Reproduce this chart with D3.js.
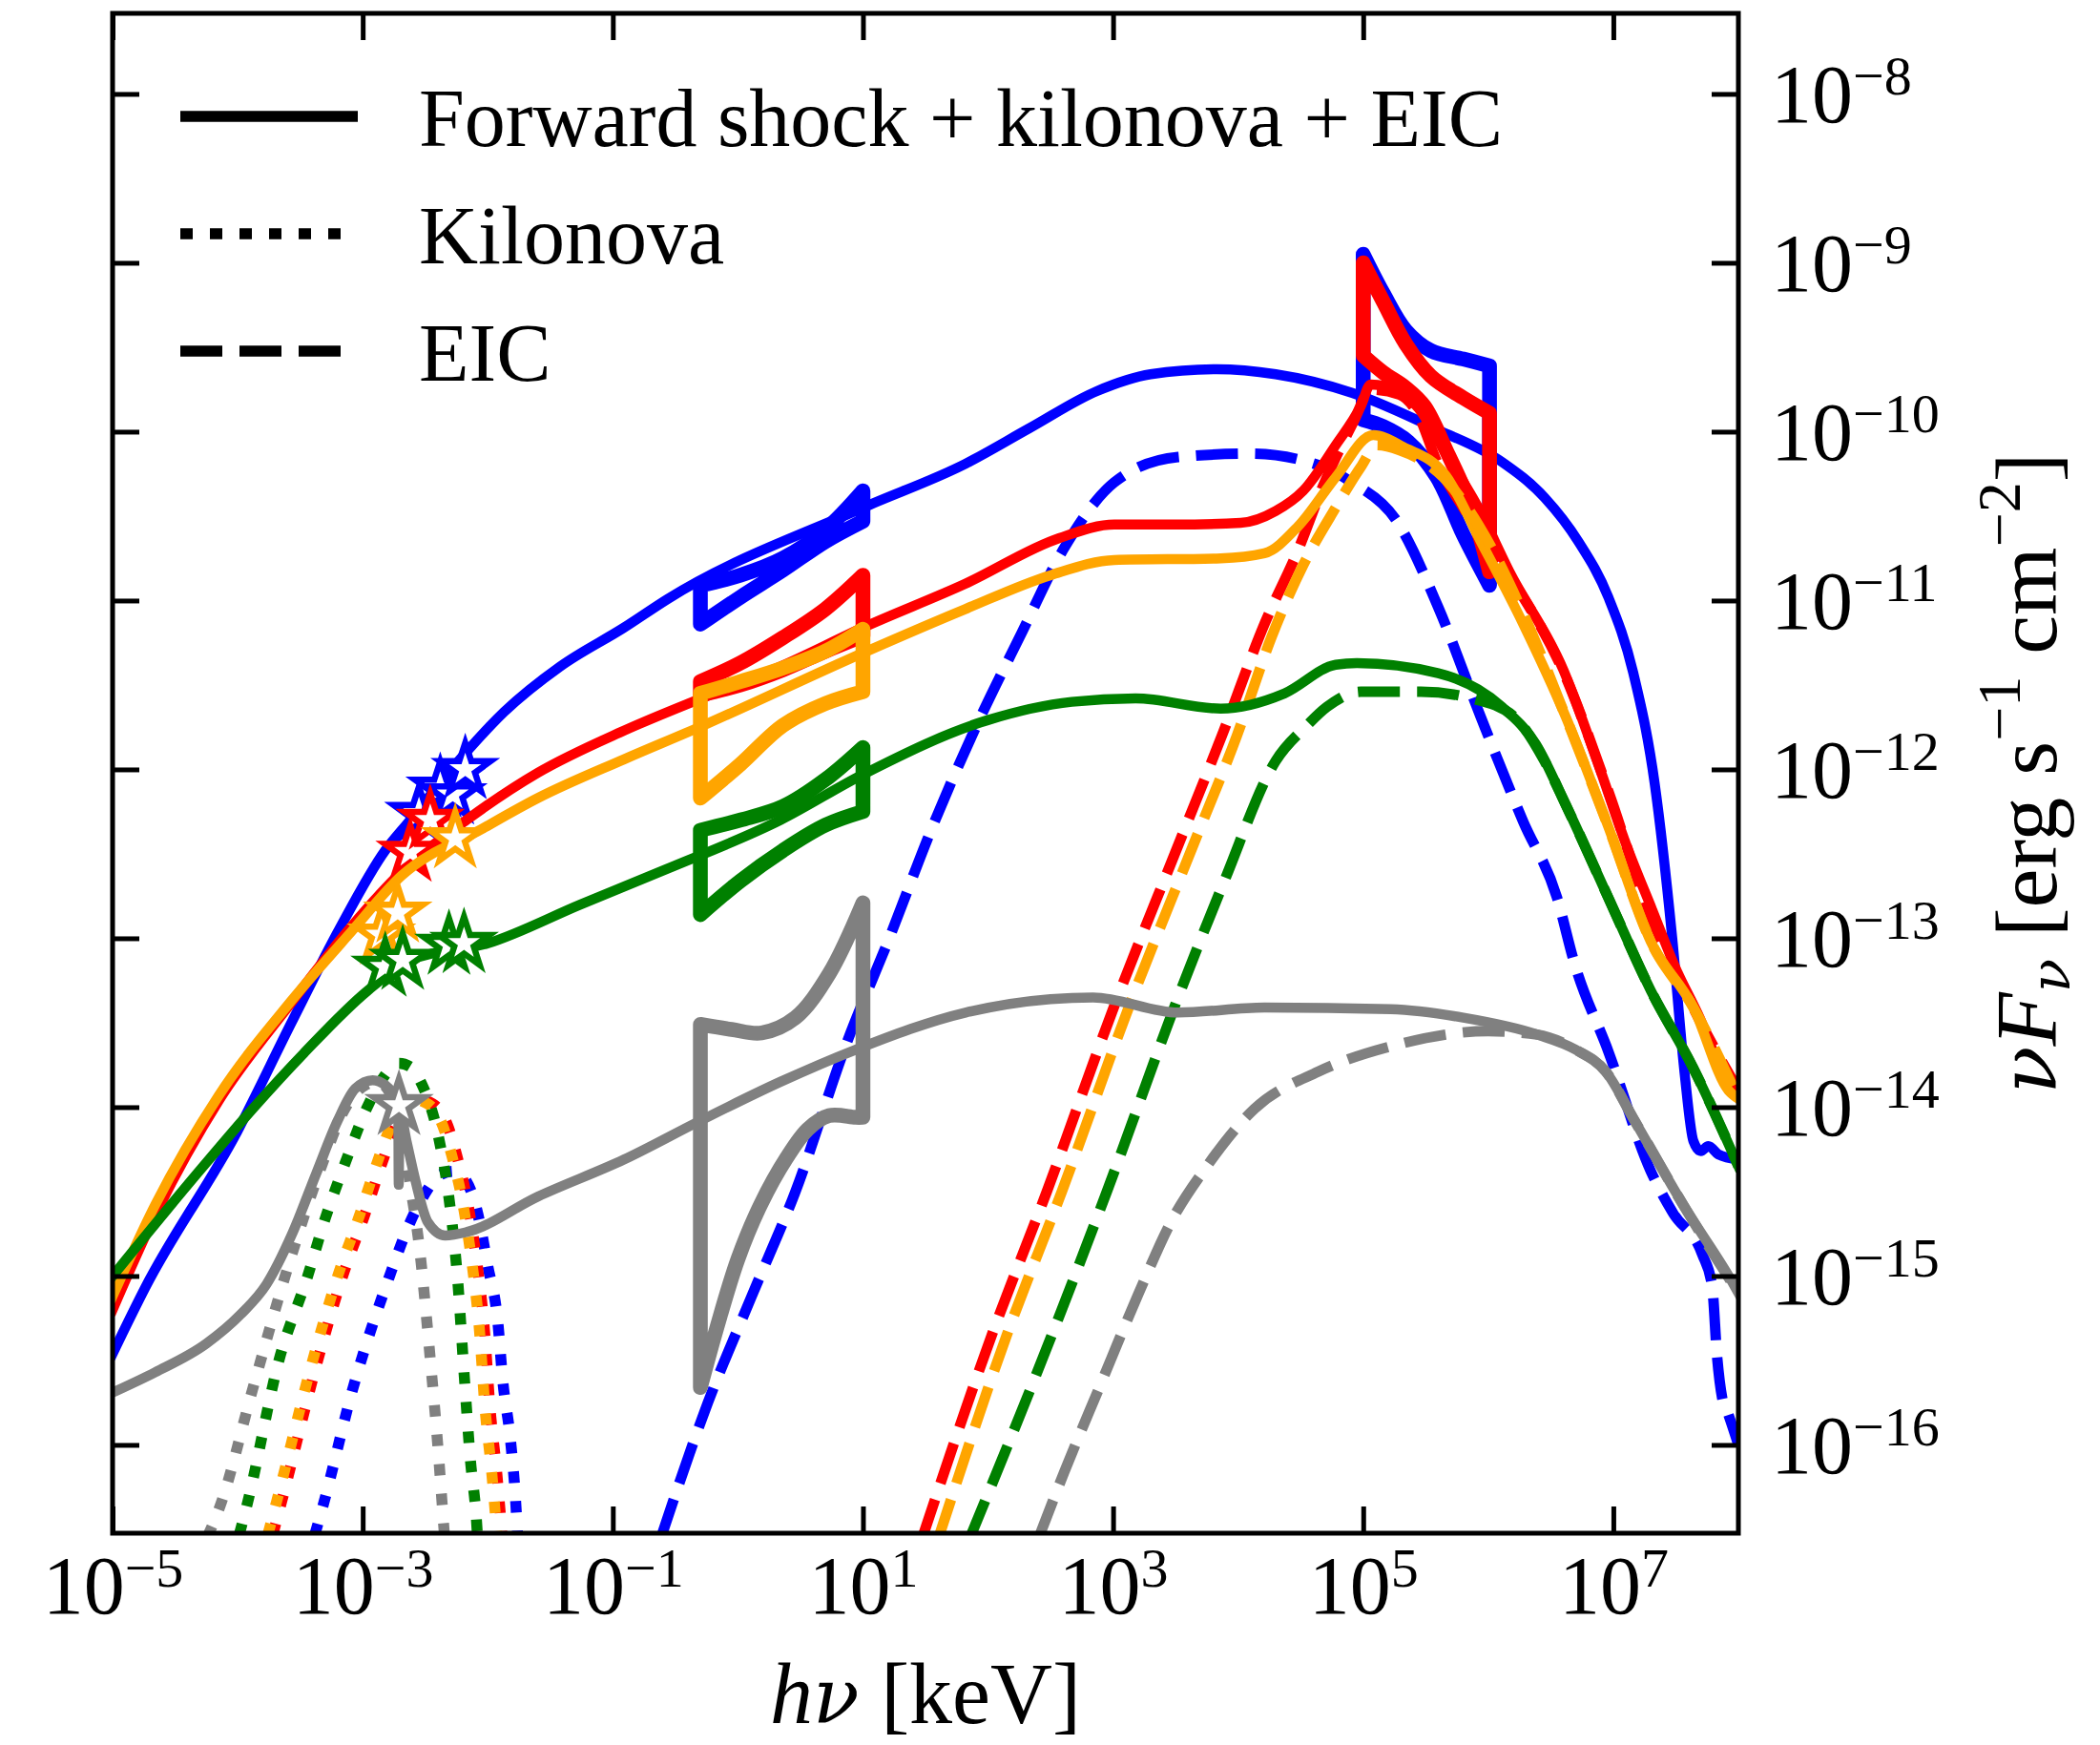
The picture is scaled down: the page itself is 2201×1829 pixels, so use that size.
<!doctype html>
<html>
<head>
<meta charset="utf-8">
<title>Spectral energy distributions</title>
<script src="https://cdnjs.cloudflare.com/ajax/libs/d3/7.8.5/d3.min.js"></script>
<style>
  body { margin: 0; background: #fff; }
  svg text { font-family: 'Liberation Serif', 'Times New Roman', serif; fill: #000; }
  .nu { font-family: 'DejaVu Serif', serif; font-style: italic; }
</style>
</head>
<body>
<div id="chart"></div>
<script>
// every point is [log10(hv / keV), log10(vFv / erg s^-1 cm^-2)]

// ---- blue ----
var blueTotal = [[-5.00,-15.46],[-4.74,-15.07],[-4.00,-14.14],[-3.57,-13.50],[-3.19,-12.95],[-2.82,-12.48],[-2.62,-12.30],[-2.28,-11.99],[-1.87,-11.66],[-1.42,-11.39],[-0.91,-11.16],[-0.56,-10.99],[1.00,-10.45],[1.82,-10.19],[2.33,-9.98],[2.87,-9.76],[3.30,-9.66],[3.83,-9.63],[4.30,-9.66],[4.91,-9.77],[5.60,-9.99],[6.11,-10.18],[6.45,-10.39],[6.72,-10.65],[6.96,-10.98],[7.16,-11.43],[7.33,-12.08],[7.47,-12.99],[7.57,-13.80],[7.64,-14.20],[7.70,-14.26],[7.76,-14.23],[7.84,-14.28],[8.00,-14.31]];
var blueKilonova = [[-3.45,-16.70],[-3.31,-16.34],[-3.08,-15.67],[-2.79,-15.01],[-2.62,-14.68],[-2.50,-14.51],[-2.38,-14.40],[-2.27,-14.38],[-2.17,-14.44],[-2.09,-14.60],[-2.00,-14.94],[-1.92,-15.27],[-1.88,-15.62],[-1.82,-15.96],[-1.78,-16.30],[-1.75,-16.70]];
var blueEIC = [[-0.62,-16.56],[-0.24,-15.75],[0.11,-15.12],[0.46,-14.50],[0.87,-13.62],[1.21,-13.00],[1.55,-12.35],[1.89,-11.77],[2.27,-11.19],[2.60,-10.70],[3.01,-10.30],[3.52,-10.15],[4.10,-10.13],[4.65,-10.20],[4.91,-10.30],[5.26,-10.52],[5.60,-11.04],[5.94,-11.69],[6.28,-12.31],[6.55,-12.76],[6.69,-13.15],[6.96,-13.67],[7.30,-14.38],[7.48,-14.63],[7.71,-14.87],[7.79,-15.06],[7.83,-15.48],[7.87,-15.72],[7.92,-15.82],[8.00,-16.00]];
var blueXrayUpper = [[-0.30,-10.91],[0.02,-10.85],[0.36,-10.75],[0.70,-10.58],[1.00,-10.35]];
var blueXrayLower = [[-0.30,-11.14],[0.02,-10.98],[0.36,-10.82],[0.70,-10.65],[1.00,-10.53]];
var blueGammaUpper = [[5.00,-8.95],[5.16,-9.18],[5.34,-9.40],[5.54,-9.52],[5.80,-9.57],[6.01,-9.61]];
var blueGammaLower = [[5.00,-9.93],[5.16,-9.97],[5.36,-10.06],[5.59,-10.27],[5.80,-10.61],[6.01,-10.91]];
var blueStars = [[-2.55,-12.26],[-2.38,-12.11],[-2.28,-12.15],[-2.18,-12.00]];

// ---- red ----
var redTotal = [[-5.00,-15.20],[-4.66,-14.64],[-4.15,-13.96],[-3.57,-13.38],[-3.09,-12.93],[-2.68,-12.60],[-2.17,-12.30],[-1.60,-12.02],[-0.91,-11.77],[-0.23,-11.56],[0.34,-11.39],[1.00,-11.16],[1.82,-10.90],[2.57,-10.63],[3.01,-10.55],[3.50,-10.55],[4.02,-10.54],[4.30,-10.47],[4.52,-10.35],[4.78,-10.08],[4.98,-9.85],[5.06,-9.72],[5.29,-9.76],[5.44,-9.86],[5.67,-10.14],[5.92,-10.45],[6.17,-10.83],[6.60,-11.41],[6.88,-11.97],[7.11,-12.46],[7.31,-12.83],[7.50,-13.18],[7.69,-13.47],[7.85,-13.75],[8.00,-13.86]];
var redKilonova = [[-3.78,-16.70],[-3.65,-16.34],[-3.36,-15.50],[-3.16,-15.00],[-2.99,-14.65],[-2.85,-14.34],[-2.74,-14.12],[-2.58,-13.95],[-2.44,-13.98],[-2.32,-14.11],[-2.25,-14.28],[-2.15,-14.61],[-2.08,-14.96],[-2.03,-15.29],[-1.98,-15.80],[-1.93,-16.15],[-1.89,-16.50],[-1.87,-16.70]];
var redEIC = [[1.47,-16.56],[2.03,-15.35],[2.47,-14.50],[3.01,-13.40],[3.52,-12.45],[3.87,-11.80],[4.21,-11.14],[4.48,-10.70],[4.68,-10.32],[4.93,-9.93],[5.06,-9.75],[5.29,-9.78],[5.44,-9.90],[5.59,-10.18],[5.80,-10.45],[6.17,-10.85],[6.60,-11.42],[6.96,-12.13],[7.30,-12.87],[7.50,-13.20],[7.70,-13.50],[8.00,-13.90]];
var redXrayUpper = [[-0.30,-11.48],[0.02,-11.37],[0.36,-11.22],[0.70,-11.05],[1.00,-10.85]];
var redXrayLower = [[-0.30,-11.56],[0.02,-11.50],[0.36,-11.41],[0.70,-11.30],[1.00,-11.21]];
var redGammaUpper = [[5.00,-9.00],[5.16,-9.23],[5.34,-9.48],[5.54,-9.67],[5.80,-9.80],[6.01,-9.89]];
var redGammaLower = [[5.00,-9.55],[5.16,-9.65],[5.34,-9.74],[5.49,-9.85],[5.67,-10.12],[5.85,-10.42],[6.01,-10.83]];
var redStars = [[-2.62,-12.49],[-2.46,-12.30]];

// ---- orange ----
var orangeTotal = [[-5.00,-15.12],[-4.66,-14.58],[-4.15,-13.93],[-3.57,-13.37],[-3.09,-12.96],[-2.69,-12.63],[-2.04,-12.35],[-1.60,-12.17],[-0.91,-11.94],[-0.34,-11.76],[1.00,-11.31],[1.82,-11.05],[2.50,-10.85],[3.01,-10.76],[3.86,-10.75],[4.21,-10.72],[4.48,-10.56],[4.78,-10.27],[5.08,-10.02],[5.32,-10.09],[5.66,-10.26],[5.94,-10.65],[6.28,-11.14],[6.62,-11.69],[6.96,-12.34],[7.30,-13.02],[7.64,-13.41],[7.92,-13.90],[8.00,-13.95]];
var orangeKilonova = [[-3.82,-16.70],[-3.69,-16.34],[-3.40,-15.50],[-3.20,-15.00],[-3.03,-14.65],[-2.89,-14.34],[-2.78,-14.12],[-2.62,-13.95],[-2.48,-13.98],[-2.36,-14.11],[-2.29,-14.28],[-2.19,-14.61],[-2.12,-14.96],[-2.07,-15.29],[-2.02,-15.80],[-1.97,-16.15],[-1.93,-16.50],[-1.91,-16.70]];
var orangeEIC = [[1.60,-16.56],[2.15,-15.35],[2.59,-14.50],[3.13,-13.40],[3.64,-12.45],[3.99,-11.80],[4.27,-11.21],[4.52,-10.79],[4.78,-10.45],[4.98,-10.21],[5.11,-10.08],[5.29,-10.11],[5.64,-10.27],[5.92,-10.55],[6.30,-11.11],[6.62,-11.69],[6.96,-12.34],[7.30,-13.02],[7.64,-13.41],[8.00,-13.95]];
var orangeXrayUpper = [[-0.30,-11.55],[0.02,-11.48],[0.36,-11.40],[0.70,-11.30],[1.00,-11.17]];
var orangeXrayLower = [[-0.30,-12.17],[0.02,-11.97],[0.36,-11.74],[0.70,-11.61],[1.00,-11.54]];
var orangeStars = [[-2.85,-12.98],[-2.72,-12.85],[-2.26,-12.41]];

// ---- green ----
var greenTotal = [[-5.00,-15.00],[-4.32,-14.39],[-3.88,-14.01],[-3.47,-13.68],[-2.96,-13.31],[-2.62,-13.13],[-2.00,-13.03],[-1.26,-12.80],[-0.57,-12.59],[0.34,-12.30],[1.00,-12.03],[1.99,-11.71],[2.67,-11.60],[3.18,-11.58],[3.86,-11.64],[4.37,-11.55],[4.78,-11.38],[4.95,-11.37],[5.60,-11.43],[6.11,-11.63],[6.38,-11.85],[6.62,-12.21],[6.96,-12.76],[7.30,-13.31],[7.64,-13.77],[8.00,-14.35]];
var greenKilonova = [[-4.05,-16.70],[-3.92,-16.34],[-3.67,-15.50],[-3.44,-15.00],[-3.30,-14.66],[-3.14,-14.33],[-2.97,-14.01],[-2.85,-13.84],[-2.71,-13.74],[-2.62,-13.76],[-2.53,-13.86],[-2.39,-14.19],[-2.31,-14.54],[-2.24,-15.03],[-2.19,-15.57],[-2.14,-16.08],[-2.09,-16.45],[-2.07,-16.70]];
var greenEIC = [[1.85,-16.56],[2.51,-15.35],[2.95,-14.50],[3.53,-13.33],[3.89,-12.66],[4.30,-11.95],[4.55,-11.74],[4.71,-11.63],[4.98,-11.54],[5.46,-11.54],[5.87,-11.58],[6.21,-11.69],[6.45,-11.95],[6.62,-12.21],[6.96,-12.76],[7.30,-13.31],[7.64,-13.77],[8.00,-14.35]];
var greenXrayUpper = [[-0.30,-12.36],[0.02,-12.30],[0.36,-12.22],[0.70,-12.06],[1.00,-11.87]];
var greenXrayLower = [[-0.30,-12.86],[0.02,-12.66],[0.36,-12.48],[0.70,-12.33],[1.00,-12.25]];
var greenStars = [[-2.82,-13.17],[-2.68,-13.13],[-2.31,-13.04],[-2.19,-13.03]];

// ---- gray ----
var grayTotal = [[-5.00,-15.69],[-4.66,-15.57],[-4.25,-15.40],[-3.98,-15.23],[-3.77,-15.05],[-3.57,-14.76],[-3.37,-14.39],[-3.20,-14.08],[-3.06,-13.89],[-2.92,-13.84],[-2.82,-13.87],[-2.75,-13.93],[-2.716,-13.99],[-2.712,-14.46],[-2.706,-14.02],[-2.65,-14.20],[-2.58,-14.43],[-2.48,-14.68],[-2.34,-14.76],[-2.17,-14.74],[-1.60,-14.53],[-0.91,-14.31],[-0.30,-14.08],[0.34,-13.85],[0.94,-13.66],[1.82,-13.44],[2.50,-13.36],[2.84,-13.35],[3.52,-13.44],[4.21,-13.41],[5.22,-13.42],[5.80,-13.47],[6.39,-13.57],[6.70,-13.66],[6.94,-13.79],[7.17,-14.08],[7.56,-14.58],[7.97,-15.06],[8.00,-15.10]];
var grayKilonova = [[-4.35,-16.70],[-4.13,-16.34],[-3.88,-15.67],[-3.62,-15.00],[-3.33,-14.35],[-3.15,-14.02],[-2.98,-13.87],[-2.88,-13.85],[-2.78,-13.92],[-2.68,-14.15],[-2.62,-14.46],[-2.55,-14.81],[-2.46,-15.49],[-2.40,-16.00],[-2.35,-16.50],[-2.33,-16.70]];
var grayEIC = [[2.40,-16.56],[2.61,-16.16],[2.89,-15.66],[3.20,-15.11],[3.47,-14.67],[3.74,-14.36],[4.13,-14.01],[4.64,-13.79],[5.22,-13.64],[6.00,-13.55],[6.39,-13.57],[6.70,-13.66],[6.94,-13.79],[7.17,-14.08],[7.56,-14.58],[8.00,-15.10]];
var grayXrayUpper = [[-0.30,-13.51],[-0.05,-13.54],[0.19,-13.56],[0.46,-13.47],[0.73,-13.21],[1.00,-12.79]];
var grayXrayLower = [[-0.30,-15.66],[-0.17,-15.31],[0.00,-14.90],[0.18,-14.58],[0.39,-14.30],[0.56,-14.13],[0.73,-14.05],[0.94,-14.06],[1.00,-14.06]];
var grayStars = [[-2.71,-13.99]];

var xTickValues = [1e-5, 1e-3, 1e-1, 1e1, 1e3, 1e5, 1e7];
var yTickValues = [1e-8, 1e-9, 1e-10, 1e-11, 1e-12, 1e-13, 1e-14, 1e-15, 1e-16];
var legendLabels = ["Forward shock + kilonova + EIC", "Kilonova", "EIC"];

var series = [
  { color: "#0000ff", total: blueTotal, kilonova: blueKilonova, eic: blueEIC, bowties: [[blueXrayUpper, blueXrayLower], [blueGammaUpper, blueGammaLower]], stars: blueStars },
  { color: "#ff0000", total: redTotal, kilonova: redKilonova, eic: redEIC, bowties: [[redXrayUpper, redXrayLower], [redGammaUpper, redGammaLower]], stars: redStars },
  { color: "#ffa500", total: orangeTotal, kilonova: orangeKilonova, eic: orangeEIC, bowties: [[orangeXrayUpper, orangeXrayLower]], stars: orangeStars },
  { color: "#008000", total: greenTotal, kilonova: greenKilonova, eic: greenEIC, bowties: [[greenXrayUpper, greenXrayLower]], stars: greenStars },
  { color: "#808080", total: grayTotal, kilonova: grayKilonova, eic: grayEIC, bowties: [[grayXrayUpper, grayXrayLower]], stars: grayStars }
];

var width = 2201, height = 1829;
var plot = { left: 118, right: 1822, top: 14, bottom: 1607 };

var x = d3.scaleLog().domain([1e-5, 1e8]).range([plot.left, plot.right]);
var y = d3.scaleLog().domain([3e-17, 3e-8]).range([plot.bottom, plot.top]);

var px = d => x(Math.pow(10, d[0]));
var py = d => y(Math.pow(10, d[1]));

var svg = d3.select("#chart").append("svg").attr("width", width).attr("height", height);

svg.append("clipPath").attr("id", "clip")
  .append("rect")
  .attr("x", plot.left).attr("y", plot.top)
  .attr("width", plot.right - plot.left).attr("height", plot.bottom - plot.top);

var curve = d3.line().x(px).y(py).curve(d3.curveMonotoneX);
var edge = d3.line().x(px).y(py).curve(d3.curveCatmullRom.alpha(0.5));

function bowtiePath(upper, lower) {
  var lowRev = lower.slice().reverse();
  return edge(upper) + edge(lowRev).replace(/^M/, "L") + "Z";
}

var star = d3.symbol().type(d3.symbolStar).size(880);

var plotArea = svg.append("g").attr("clip-path", "url(#clip)");

series.forEach(function (s) {
  var g = plotArea.append("g");

  g.append("path").attr("d", curve(s.total))
    .attr("fill", "none").attr("stroke", s.color).attr("stroke-width", 10.5)
    .attr("stroke-linejoin", "round").attr("stroke-linecap", "square");

  g.append("path").attr("d", curve(s.eic))
    .attr("fill", "none").attr("stroke", s.color).attr("stroke-width", 11)
    .attr("stroke-dasharray", "44 18").attr("stroke-linejoin", "round");

  g.append("path").attr("d", curve(s.kilonova))
    .attr("fill", "none").attr("stroke", s.color).attr("stroke-width", 11.5)
    .attr("stroke-dasharray", "12 19").attr("stroke-linejoin", "round");

  s.bowties.forEach(function (b) {
    g.append("path").attr("d", bowtiePath(b[0], b[1]))
      .attr("fill", "none").attr("stroke", s.color).attr("stroke-width", 15.5)
      .attr("stroke-linejoin", "round").attr("stroke-linecap", "round");
  });

  g.selectAll(".star").data(s.stars).join("path")
    .attr("class", "star")
    .attr("d", star)
    .attr("transform", d => `translate(${px(d)},${py(d)})`)
    .attr("fill", "#fff").attr("stroke", s.color).attr("stroke-width", 6.5)
    .attr("stroke-linejoin", "miter");
});

// axes: inward ticks on all four sides, labels bottom and right
function supLabel(text, exp, supSize, rise) {
  text.text(null);
  text.append("tspan").text("10");
  text.append("tspan").attr("font-size", supSize).attr("dy", -rise)
    .text(exp < 0 ? "\u2212" + Math.abs(exp) : String(exp));
}

var xBottom = svg.append("g").attr("transform", `translate(0,${plot.bottom})`)
  .call(d3.axisBottom(x).tickValues(xTickValues).tickSize(-28))
  .attr("font-family", null).attr("font-size", null);
xBottom.select(".domain").remove();
xBottom.selectAll(".tick line").attr("stroke-width", 5);
xBottom.selectAll(".tick text")
  .attr("y", 84).attr("dy", null).attr("font-size", 86)
  .each(function (d) { supLabel(d3.select(this), Math.round(Math.log10(d)), 58, 28); });

var xTop = svg.append("g").attr("transform", `translate(0,${plot.top})`)
  .call(d3.axisTop(x).tickValues(xTickValues).tickSize(-28).tickFormat(""));
xTop.select(".domain").remove();
xTop.selectAll(".tick line").attr("stroke-width", 5);

var yRight = svg.append("g").attr("transform", `translate(${plot.right},0)`)
  .call(d3.axisRight(y).tickValues(yTickValues).tickSize(-28))
  .attr("font-family", null).attr("font-size", null);
yRight.select(".domain").remove();
yRight.selectAll(".tick line").attr("stroke-width", 5);
yRight.selectAll(".tick text")
  .attr("x", 34).attr("y", 29).attr("dy", null).attr("font-size", 86)
  .each(function (d) { supLabel(d3.select(this), Math.round(Math.log10(d)), 58, 29); });

var yLeft = svg.append("g").attr("transform", `translate(${plot.left},0)`)
  .call(d3.axisLeft(y).tickValues(yTickValues).tickSize(-28).tickFormat(""));
yLeft.select(".domain").remove();
yLeft.selectAll(".tick line").attr("stroke-width", 5);

svg.append("rect")
  .attr("x", plot.left).attr("y", plot.top)
  .attr("width", plot.right - plot.left).attr("height", plot.bottom - plot.top)
  .attr("fill", "none").attr("stroke", "#000").attr("stroke-width", 5);

// axis titles
var xl = svg.append("text").attr("x", (plot.left + plot.right) / 2).attr("y", 1806)
  .attr("text-anchor", "middle").attr("font-size", 90);
xl.append("tspan").attr("font-style", "italic").text("h");
xl.append("tspan").attr("class", "nu").attr("font-size", 80).text("\u03bd");
xl.append("tspan").text(" [keV]");

var yl = svg.append("text")
  .attr("transform", `translate(2155,${(plot.top + plot.bottom) / 2}) rotate(-90)`)
  .attr("text-anchor", "middle").attr("font-size", 92);
yl.append("tspan").attr("class", "nu").attr("font-size", 82).text("\u03bd");
yl.append("tspan").attr("font-style", "italic").text("F");
yl.append("tspan").attr("class", "nu").attr("font-size", 58).attr("dy", 14).text("\u03bd");
yl.append("tspan").attr("dy", -14).text(" [erg s");
yl.append("tspan").attr("font-size", 64).attr("dy", -38).text("\u22121");
yl.append("tspan").attr("dy", 38).text(" cm");
yl.append("tspan").attr("font-size", 64).attr("dy", -38).text("\u22122");
yl.append("tspan").attr("dy", 38).text("]");

// legend
var legendDash = [null, "13 18", "44 18"];
var legend = svg.append("g");
legendLabels.forEach(function (label, i) {
  var ly = 122 + i * 123;
  legend.append("line").attr("x1", 189).attr("x2", 375).attr("y1", ly).attr("y2", ly)
    .attr("stroke", "#000").attr("stroke-width", 11.5)
    .attr("stroke-dasharray", legendDash[i]);
  legend.append("text").attr("x", 439).attr("y", ly + 31).attr("font-size", 86).text(label);
});
</script>
</body>
</html>
